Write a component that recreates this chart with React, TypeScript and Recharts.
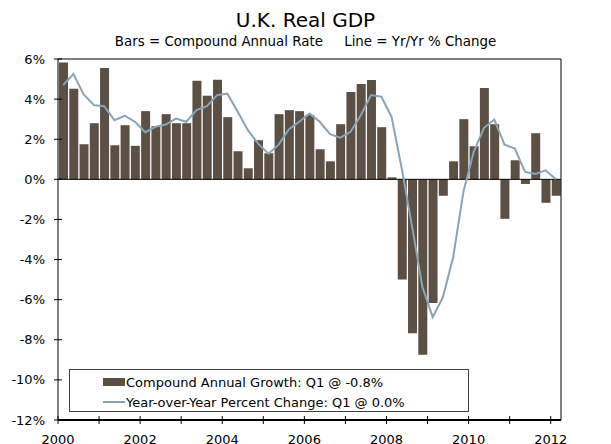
import { Bar, ComposedChart, Legend, Line, ReferenceLine, XAxis, YAxis } from "recharts";

// Quarterly, 2000 Q1 .. 2012 Q1 (49 quarters)
const START_YEAR = 2000;

// Compound annual rate, % (bars)
const compoundAnnual = [
  5.82, 4.52, 1.75, 2.8, 5.55, 1.7, 2.7, 1.67, 3.4, 2.65, 3.25, 2.8, 2.8,
  4.92, 4.17, 4.97, 3.1, 1.4, 0.55, 1.95, 1.3, 3.25, 3.45, 3.4, 3.2, 1.5,
  0.9, 2.75, 4.35, 4.75, 4.95, 2.6, 0.1, -5.0, -7.67, -8.75, -6.17, -0.82,
  0.9, 3.0, 1.65, 4.55, 2.75, -1.97, 0.95, -0.23, 2.3, -1.17, -0.82,
];

// Year-over-year % change (line)
const yearOverYear = [
  4.7, 5.25, 4.23, 3.7, 3.65, 2.95, 3.17, 2.87, 2.35, 2.62, 2.73, 3.03, 2.87,
  3.45, 3.65, 4.2, 4.27, 3.37, 2.45, 1.78, 1.28, 1.73, 2.5, 2.87, 3.28, 2.87,
  2.25, 2.08, 2.37, 3.2, 4.2, 4.12, 3.1, 0.5, -2.37, -5.37, -6.87, -5.87,
  -3.87, -0.6, 1.37, 2.57, 2.98, 1.73, 1.53, 0.37, 0.27, 0.45, 0.0,
];

const yTicks = [-12, -10, -8, -6, -4, -2, 0, 2, 4, 6];
// year boundaries (start of each Q1) on the quarter index scale
const yearTicks = Array.from({ length: 13 }, (_, k) => k * 4 - 0.5);

const BAR_COLOR = "#5c5045";
const LINE_COLOR = "#88a4b6";
const FONT = "'DejaVu Sans', Verdana, sans-serif";

const rows = compoundAnnual.map((v, i) => ({ q: i, bar: v, line: yearOverYear[i] }));
const lastBar = compoundAnnual[compoundAnnual.length - 1];
const lastLine = yearOverYear[yearOverYear.length - 1];

function LeftTick({ x, y, payload }: any) {
  return (
    <g>
      <line x1={x - 4} x2={x + 4} y1={y} y2={y} stroke="#000" />
      <text x={x - 13} y={y} dy={4.5} textAnchor="end" fontSize={13} fontFamily={FONT} fill="#000">
        {payload.value}%
      </text>
    </g>
  );
}

function RightTick({ x, y, payload }: any) {
  return (
    <g>
      <line x1={x - 4} x2={x + 4} y1={y} y2={y} stroke="#000" />
      <text x={x + 16} y={y} dy={4.5} textAnchor="start" fontSize={13} fontFamily={FONT} fill="#000">
        {payload.value}%
      </text>
    </g>
  );
}

function YearTick({ x, y, payload }: any) {
  const year = START_YEAR + Math.round((payload.value + 0.5) / 4);
  return (
    <g>
      <line x1={x} x2={x} y1={y - 4} y2={y + 4} stroke="#000" />
      {year % 2 === 0 && (
        <text x={x} y={y + 24} textAnchor="middle" fontSize={13} fontFamily={FONT} fill="#000">
          {year}
        </text>
      )}
    </g>
  );
}

function LegendBox({ payload }: any) {
  return (
    <div
      style={{
        border: "1px solid #404040",
        background: "#fff",
        boxSizing: "border-box",
        height: 43,
        padding: "2px 0 0 33px",
        fontFamily: FONT,
        fontSize: 13,
        color: "#000",
      }}
    >
      {(payload ?? []).map((entry: any) => (
        <div key={entry.value} style={{ display: "flex", alignItems: "center", height: 20 }}>
          {entry.type === "line" ? (
            <span style={{ width: 22, height: 2, background: LINE_COLOR, marginRight: 1 }} />
          ) : (
            <span style={{ width: 22, height: 8, background: BAR_COLOR, marginRight: 1 }} />
          )}
          <span>{entry.value}</span>
        </div>
      ))}
    </div>
  );
}

export default function App() {
  return (
    <div style={{ position: "absolute", left: 0, top: 0, width: 611, height: 444, background: "#fff", overflow: "hidden" }}>
      <div
        style={{
          position: "absolute", left: 0, top: 8, width: 611, textAlign: "center",
          fontFamily: FONT, fontSize: 20, lineHeight: "24px", color: "#000",
        }}
      >
        U.K. Real GDP
      </div>
      <div
        style={{
          position: "absolute", left: 0, top: 34, width: 611, textAlign: "center",
          fontFamily: FONT, fontSize: 13.4, lineHeight: "16px", color: "#000", whiteSpace: "pre",
        }}
      >
        {"Bars = Compound Annual Rate     Line = Yr/Yr % Change"}
      </div>
      <ComposedChart width={611} height={444} data={rows} margin={{ top: 59, right: 0, bottom: 0, left: 0 }}>
        <XAxis
          xAxisId={0}
          type="number"
          dataKey="q"
          domain={[-0.5, 48.5]}
          ticks={yearTicks}
          interval={0}
          height={24}
          tickSize={0}
          tickMargin={0}
          tick={<YearTick />}
          axisLine={{ stroke: "#000", strokeWidth: 2 }}
        />
        <YAxis
          yAxisId="left"
          orientation="left"
          width={58}
          domain={[-12, 6]}
          ticks={yTicks}
          interval={0}
          tickSize={0}
          tickMargin={0}
          tick={<LeftTick />}
          axisLine={{ stroke: "#000" }}
        />
        <YAxis
          yAxisId="right"
          orientation="right"
          width={50}
          domain={[-12, 6]}
          ticks={yTicks}
          interval={0}
          tickSize={0}
          tickMargin={0}
          tick={<RightTick />}
          axisLine={{ stroke: "#000" }}
        />
        <ReferenceLine yAxisId="left" y={6} stroke="#000" />
        <Bar
          yAxisId="left"
          dataKey="bar"
          name={`Compound Annual Growth: Q1 @ ${lastBar.toFixed(1)}%`}
          fill={BAR_COLOR}
          barSize={9}
          legendType="rect"
          isAnimationActive={false}
        />
        <ReferenceLine yAxisId="left" y={0} stroke="#000" />
        <Line
          yAxisId="left"
          type="linear"
          dataKey="line"
          name={`Year-over-Year Percent Change: Q1 @ ${lastLine.toFixed(1)}%`}
          stroke={LINE_COLOR}
          strokeWidth={2}
          dot={false}
          legendType="line"
          isAnimationActive={false}
        />
        <Legend
          layout="horizontal"
          verticalAlign="middle"
          align="center"
          content={<LegendBox />}
          wrapperStyle={{ left: 69, top: 369, width: 400, height: 43 }}
        />
      </ComposedChart>
    </div>
  );
}
